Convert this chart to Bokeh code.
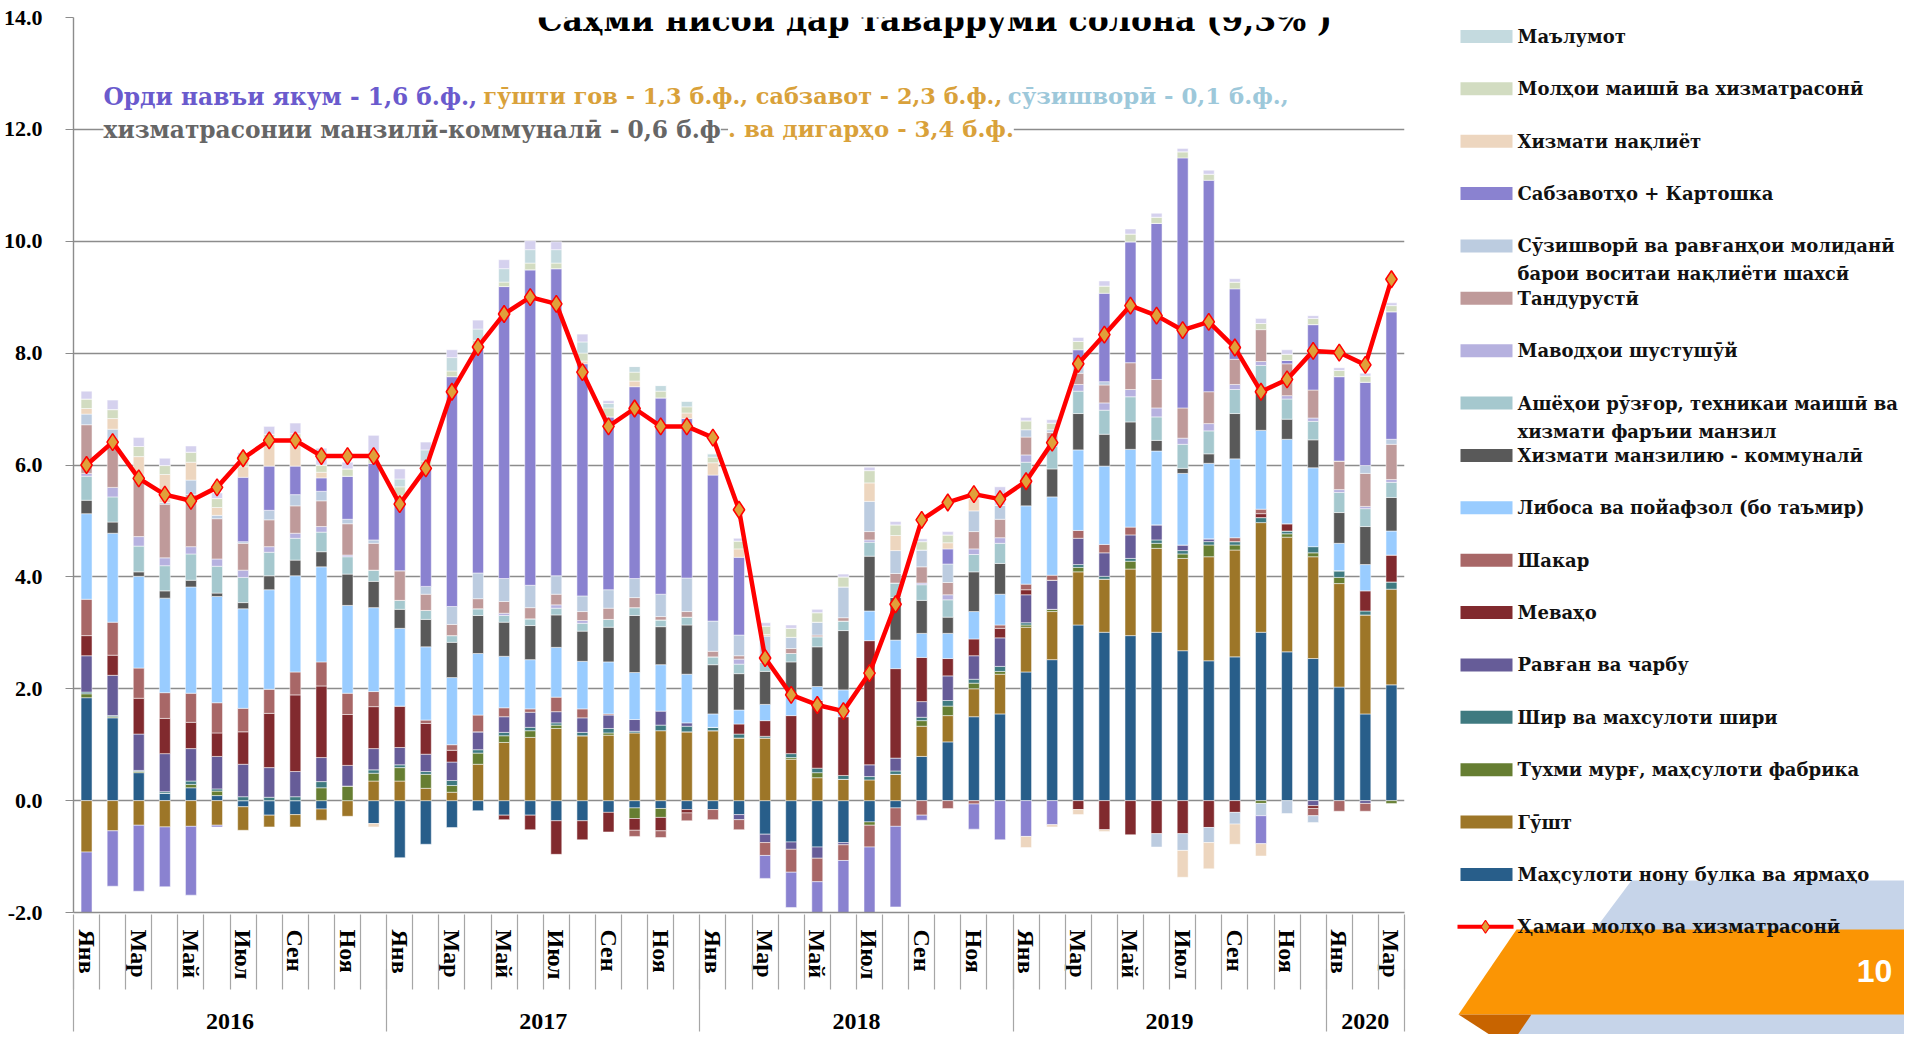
import numpy as np
from bokeh.plotting import figure
from bokeh.models import (ColumnDataSource, Range1d, LinearAxis, FixedTicker, Label,
                          NumeralTickFormatter)
from bokeh.layouts import row, column
from bokeh.embed import file_html
from bokeh.resources import INLINE

# ---------------- data ----------------
month_names = ["Янв", "Фев", "Мар", "Апр", "Май", "Июн", "Июл", "Авг", "Сен", "Окт", "Ноя", "Дек"]
years = ["2016", "2017", "2018", "2019", "2020"]
months_per_year = [12, 12, 12, 12, 3]

bread = [1.84, 1.48, 0.5, 0.13, 0.23, 0.09, -0.11, -0.26, -0.25, -0.15, 0, -0.41,
         -1.02, -0.78, -0.48, -0.18, -0.26, -0.26, -0.36, -0.36, -0.21, -0.13, -0.14, -0.16,
         -0.16, -0.25, -0.6, -0.74, -0.83, -0.75, -0.38, -0.13, 0.79, 1.05, 1.5, 1.55,
         2.3, 2.52, 3.14, 3.01, 2.95, 3.01, 2.68, 2.5, 2.57, 3.01, 2.66, 2.54,
         2.03, 1.55, 2.07]
meat = [-0.92, -0.54, -0.44, -0.47, -0.46, -0.44, -0.42, -0.21, -0.22, -0.2, -0.28, 0.35,
        0.35, 0.22, 0.15, 0.65, 1.04, 1.13, 1.29, 1.16, 1.17, 1.21, 1.25, 1.23,
        1.25, 1.12, 1.12, 0.74, 0.41, 0.38, 0.37, 0.47, 0.54, 0.47, 0.5, 0.71,
        0.8, 0.86, 0.95, 0.95, 1.19, 1.5, 1.65, 1.86, 1.91, 1.96, 2.05, 1.82,
        1.85, 1.77, 1.71]
eggs = [0.07, 0.02, 0.02, 0, 0.06, 0.08, 0, 0, 0, 0.23, 0.26, 0.14,
        0.24, 0.25, 0.12, 0.2, 0.12, 0.12, 0.06, 0, 0.04, -0.19, -0.16, 0,
        0, 0, 0, 0.03, 0.09, 0, -0.06, 0, 0.1, 0.17, 0.1, 0.05,
        0.04, 0.04, 0.08, 0, 0.14, 0.09, 0.08, 0.21, 0.09, -0.05, 0.06, 0.07,
        0.11, 0, -0.05]
milk = [0.03, 0.02, 0.02, 0.03, 0.06, 0.04, 0.07, 0.06, 0.07, 0.11, 0, 0.06,
        0.05, 0.05, 0.09, 0.06, 0.06, 0.06, 0.04, 0.06, 0.08, 0.03, 0.1, 0.1,
        0.06, 0.07, 0.03, 0.07, 0.08, 0.07, 0.06, 0.06, 0.06, 0.1, 0.07, 0.09,
        0.04, 0, 0.05, 0.05, 0.05, 0.06, 0.06, 0.06, 0.06, 0.09, 0.05, 0.11,
        0.12, 0.07, 0.13]
oil = [0.65, 0.72, 0.65, 0.68, 0.58, 0.58, 0.58, 0.53, 0.45, 0.43, 0.37, 0.38,
       0.31, 0.31, 0.33, 0.32, 0.28, 0.27, 0.2, 0.26, 0.24, 0.21, 0.25, 0.06,
       0, -0.09, -0.15, -0.13, -0.2, -0.04, 0.21, 0.23, 0.28, 0.44, 0.42, 0.51,
       0.5, 0.52, 0.47, 0.42, 0.42, 0.27, 0.1, 0.05, 0, 0, 0, -0.09,
       0, -0.05, 0]
fruit = [0.36, 0.36, 0.64, 0.63, 0.47, 0.42, 0.58, 0.97, 1.37, 1.28, 0.91, 0.75,
         0.74, 0.55, 0.21, 0, -0.08, -0.26, -0.6, -0.34, -0.35, -0.21, -0.24, -0.06,
         0, 0.18, 0.28, 0.68, 1.21, 1.05, 2.22, 1.6, 0.79, 0.31, 0.3, 0.17,
         0.09, 0, -0.16, -0.52, -0.61, -0.59, -0.59, -0.48, -0.21, 0.07, 0.13, -0.05,
         0, 0.36, 0.48]
sugar = [0.65, 0.59, 0.54, 0.46, 0.52, 0.54, 0.42, 0.43, 0.41, 0.43, 0.38, 0.27,
         0, 0.06, 0.1, 0.3, 0.16, 0.06, 0.26, 0.16, 0.02, -0.11, -0.12, -0.14,
         -0.18, -0.18, -0.23, -0.41, -0.42, -0.28, -0.39, -0.33, -0.26, -0.14, -0.06, 0.06,
         0.1, 0.09, 0.14, 0.15, 0.14, 0, 0, 0, 0.07, 0.08, 0, -0.13,
         -0.19, -0.14, 0]
clothing = [1.53, 1.59, 1.64, 1.69, 1.9, 1.9, 1.78, 1.78, 1.72, 1.7, 1.57, 1.5,
            1.39, 1.31, 1.2, 1.1, 0.92, 0.88, 0.89, 0.85, 0.93, 0.84, 0.83, 0.87,
            0.24, 0.25, 0.29, 0.37, 0.25, 0.48, 0.53, 0.51, 0.43, 0.45, 0.49, 0.55,
            1.4, 1.4, 1.44, 1.4, 1.39, 1.32, 1.28, 1.35, 1.41, 1.41, 1.51, 1.41,
            0.49, 0.47, 0.43]
housing = [0.24, 0.2, 0.08, 0.13, 0.12, 0.06, 0.11, 0.25, 0.28, 0.27, 0.56, 0.47,
           0.34, 0.49, 0.63, 0.68, 0.61, 0.61, 0.58, 0.54, 0.62, 1.02, 0.68, 0.88,
           0.88, 0.65, 0.59, 0.59, 0.71, 1.06, 0.98, 0.76, 0.59, 0.29, 0.71, 0.55,
           0.42, 0.5, 0.65, 0.57, 0.49, 0.19, 0.09, 0.17, 0.81, 0.69, 0.36, 0.5,
           0.55, 0.68, 0.6]
household = [0.43, 0.45, 0.46, 0.45, 0.47, 0.48, 0.45, 0.42, 0.39, 0.35, 0.31, 0.2,
             0.16, 0.16, 0.12, 0.12, 0.12, 0.12, 0.12, 0.14, 0.14, 0.14, 0.12, 0.14,
             0.14, 0.17, 0.17, 0.15, 0.18, 0.17, 0.25, 0.26, 0.28, 0.31, 0.31, 0.36,
             0.36, 0.4, 0.4, 0.43, 0.45, 0.42, 0.43, 0.41, 0.43, 0.47, 0.36, 0.33,
             0.36, 0.32, 0.27]
detergents = [0.05, 0.17, 0.17, 0.14, 0.13, 0.13, 0.13, 0.1, 0.09, 0.1, 0.03, 0,
              0, 0, 0, 0, 0.04, 0, 0.06, 0.05, 0, 0, 0, 0,
              0, 0.09, 0, 0, 0, 0, 0.04, 0, 0.03, 0.09, 0.1, 0.1,
              0.13, 0.05, 0.12, 0.13, 0.13, 0.16, 0.11, 0.13, 0.09, 0.07, 0.06, 0.06,
              0.05, 0.04, 0.05]
health = [0.87, 0.75, 1.0, 0.96, 0.93, 0.72, 0.48, 0.48, 0.49, 0.46, 0.56, 0.48,
          0.53, 0.29, 0.2, 0.18, 0.21, 0.2, 0.19, 0.16, 0.2, 0.18, 0.06, 0.1,
          0.1, 0.06, 0, 0.09, 0.03, 0.06, 0.15, 0.17, 0.29, 0.22, 0.31, 0.33,
          0.32, 0.2, 0.2, 0.32, 0.48, 0.51, 0.54, 0.57, 0.45, 0.57, 0.57, 0.5,
          0.51, 0.59, 0.63]
fuel = [0.19, 0.29, 0.1, 0.03, 0.26, 0.06, 0.03, 0.17, 0.2, 0.17, 0.08, 0.06,
        0, 0.14, 0.32, 0.46, 0.41, 0.4, 0.33, 0.28, 0.33, 0.34, 0.4, 0.6,
        0.54, 0.37, 0.46, 0.2, 0.23, 0.55, 0.54, 0.41, 0.3, 0.33, 0.37, 0.25,
        0.13, 0.05, 0.12, 0.06, 0, -0.24, -0.3, -0.27, -0.21, -0.22, -0.23, -0.12,
        0, 0.14, 0.09]
vegetables = [-1.1, -0.99, -1.18, -1.07, -1.23, -0.03, 1.15, 0.79, 0.51, 0.24, 0.77, 1.37,
              1.29, 2.1, 4.11, 4.0, 5.22, 5.64, 5.49, 4.15, 3.09, 3.43, 3.51, 2.85,
              2.61, 1.39, -0.41, -0.63, -0.59, -0.97, -1.22, -1.44, -0.09, 0.27, -0.45, -0.7,
              -0.64, -0.43, 0.3, 1.58, 2.16, 2.79, 4.47, 3.78, 1.26, -0.5, 0.06, 1.17,
              1.51, 1.49, 2.28]
transport = [0.1, 0.19, 0.33, 0.5, 0.32, 0.14, 0.19, 0.51, 0.48, 0.1, 0, -0.06,
             0.05, 0.04, 0, 0, 0, 0, 0, 0.05, 0, 0.1, 0, 0.1,
             0.22, 0.15, 0.03, 0, 0, 0, 0.33, 0.27, 0, 0.11, 0.22, 0,
             -0.2, -0.04, -0.09, -0.03, 0, 0, -0.48, -0.47, -0.36, -0.22, 0, 0,
             0, 0, 0]
consumer = [0.17, 0.16, 0.18, 0.16, 0.18, 0.16, 0.12, 0.06, 0.1, 0.13, 0.13, 0.2,
            0.16, 0.1, 0.1, 0.16, 0.08, 0.12, 0.1, 0.14, 0.16, 0.16, 0.12, 0.11,
            0.1, 0.14, 0.15, 0.16, 0.17, 0.18, 0.22, 0.19, 0.15, 0.14, 0, 0,
            0.16, 0.12, 0.15, 0.13, 0.14, 0.11, 0.11, 0.11, 0.12, 0.11, 0.11, 0.11,
            0.11, 0.11, 0.11]
information = [0, 0, 0, 0, 0, 0, 0, 0, 0, 0, 0, 0,
               0.14, 0.2, 0.24, 0.2, 0.24, 0.24, 0.24, 0.2, 0.08, 0.1, 0.1, 0.1,
               0.06, 0, 0, 0, 0, 0, 0, 0, 0, 0, 0, 0,
               0, 0, 0, 0, 0, 0, 0, 0, 0, 0, 0, 0,
               0, 0, 0]
other = [0.14, 0.17, 0.16, 0.13, 0.11, 0.1, 0.13, 0.14, 0.19, 0.3, 0.12, 0.3,
         0.18, 0.14, 0.14, 0.16, 0.16, 0.16, 0.14, 0.14, 0.05, 0, 0, 0,
         0, 0.05, 0.06, 0.06, 0.06, 0.05, 0.06, 0.06, 0.05, 0.06, 0.15, 0.33,
         0.06, 0.06, 0.07, 0.09, 0.09, 0.07, 0.06, 0.07, 0.06, 0.09, 0.08, 0.05,
         0.05, 0.05, 0.05]
total = [6.0, 6.41, 5.76, 5.47, 5.36, 5.6, 6.12, 6.44, 6.44, 6.16, 6.16, 6.16,
         5.3, 5.94, 7.31, 8.11, 8.7, 9.0, 8.88, 7.66, 6.69, 7.01, 6.69, 6.69,
         6.49, 5.2, 2.55, 1.89, 1.71, 1.6, 2.28, 3.51, 5.02, 5.33, 5.48, 5.39,
         5.71, 6.4, 7.81, 8.33, 8.85, 8.67, 8.41, 8.56, 8.1, 7.31, 7.53, 8.04,
         8.01, 7.79, 9.32]

# stacking order, bottom to top: (legend label lines, values, colour)
stack = [
    (["Маҳсулоти нону булка ва ярмаҳо"], bread, "#285E8A"),
    (["Гӯшт"], meat, "#9D7628"),
    (["Тухми мурғ,  маҳсулоти фабрика"], eggs, "#667E32"),
    (["Шир ва махсулоти шири"], milk, "#3F7A80"),
    (["Равған ва чарбу"], oil, "#665C98"),
    (["Меваҳо"], fruit, "#812A2E"),
    (["Шакар"], sugar, "#A86767"),
    (["Либоса ва  пойафзол (бо таъмир)"], clothing, "#99CCFF"),
    (["Хизмати  манзилию - коммуналӣ"], housing, "#595959"),
    (["Ашёҳои рӯзғор, техникаи маишӣ ва", "хизмати фаръии манзил"], household, "#A5C8CE"),
    (["Маводҳои шустушӯй"], detergents, "#B6B1DF"),
    (["Тандурустӣ"], health, "#BF9A9A"),
    (["Сӯзишворӣ ва равғанҳои молиданӣ", "барои воситаи  нақлиёти шахсӣ"], fuel, "#BCCCE0"),
    (["Сабзавотҳо + Картошка"], vegetables, "#8A82D0"),
    ([" Хизмати нақлиёт"], transport, "#EDD6BF"),
    (["Молҳои маишӣ ва хизматрасонӣ"], consumer, "#D2DCC1"),
    ([" Маълумот"], information, "#C4DADF"),
    ([], other, "#D5D1EE"),
]
total_label = "Ҳамаи молҳо ва хизматрасонӣ"

n = len(total)
x = np.arange(n)

SERIF = "DejaVu Serif"
TIMES = "Liberation Serif"
GRID = "#8C8C8C"
SEP = "#A6A6A6"
H = 1034
BORDER_TOP = 17
FRAME_H = 895
BORDER_BOTTOM = H - BORDER_TOP - FRAME_H

p = figure(width=1447, height=H, x_range=Range1d(-0.5, n - 0.5), y_range=Range1d(-2, 14),
           output_backend="svg", toolbar_location=None, x_axis_location=None,
           min_border_left=72, min_border_right=43, min_border_top=BORDER_TOP,
           min_border_bottom=BORDER_BOTTOM)
p.outline_line_color = None
p.xgrid.visible = False
yt = FixedTicker(ticks=list(range(-2, 15, 2)))
p.ygrid.ticker = yt
p.ygrid.grid_line_color = GRID
p.ygrid.grid_line_width = 1.4
yax = p.yaxis[0]
yax.ticker = yt
yax.formatter = NumeralTickFormatter(format="0.0")
yax.axis_line_color = GRID
yax.axis_line_width = 1.4
yax.major_tick_line_color = GRID
yax.major_tick_in = 0
yax.major_tick_out = 8
yax.minor_tick_line_color = None
yax.major_label_standoff = 23
yax.major_label_text_font = TIMES
yax.major_label_text_font_style = "bold"
yax.major_label_text_font_size = "22px"
yax.major_label_text_color = "black"


def bold_labels(ax, size):
    ax.major_label_text_font = TIMES
    ax.major_label_text_font_style = "bold"
    ax.major_label_text_font_size = size
    ax.major_label_text_color = "black"


# (A) month labels, adjacent to the plot
m_ticks = list(range(0, n, 2))
ax_m = LinearAxis(ticker=FixedTicker(ticks=m_ticks),
                  major_label_overrides={t: month_names[t % 12] for t in m_ticks},
                  major_label_orientation="vertical")
ax_m.axis_line_color = GRID
ax_m.axis_line_width = 1.4
ax_m.major_tick_line_color = None
ax_m.major_tick_in = 0
ax_m.major_tick_out = 0
ax_m.minor_tick_line_color = None
ax_m.major_label_standoff = 17
bold_labels(ax_m, "24px")
p.add_layout(ax_m, "below")

# (B) year labels; its minor ticks draw the month separators through (A)
starts = np.cumsum([0] + months_per_year)
y_centers = [float((starts[k] + starts[k + 1] - 1) / 2) for k in range(len(years))]
y_bounds = [float(s - 0.5) for s in starts]
m_bounds = [i - 0.5 for i in range(n + 1)]
ax_y = LinearAxis(ticker=FixedTicker(ticks=y_centers, minor_ticks=m_bounds),
                  major_label_overrides={c: yv for c, yv in zip(y_centers, years)})
ax_y.axis_line_color = None
ax_y.major_tick_line_color = None
ax_y.major_tick_in = 0
ax_y.major_tick_out = 0
ax_y.minor_tick_in = 68
ax_y.minor_tick_out = 7
ax_y.minor_tick_line_color = SEP
ax_y.minor_tick_line_width = 1.2
ax_y.major_label_standoff = 24
bold_labels(ax_y, "24px")
p.add_layout(ax_y, "below")

# (C) year separators through (B)
ax_s = LinearAxis(ticker=FixedTicker(ticks=y_bounds),
                  major_label_overrides={b: "" for b in y_bounds})
ax_s.axis_line_color = None
ax_s.major_tick_line_color = SEP
ax_s.major_tick_line_width = 1.2
ax_s.major_tick_in = 62
ax_s.major_tick_out = 0
ax_s.minor_tick_line_color = None
ax_s.major_label_standoff = 0
ax_s.major_label_text_font_size = "0px"
p.add_layout(ax_s, "below")

# stacked bars (positive and negative parts stacked separately)
pos = np.zeros(n)
neg = np.zeros(n)
for lab, vals, col in stack:
    v = np.array(vals, dtype=float)
    bottom = np.where(v >= 0, pos, neg)
    top = bottom + v
    pos = np.where(v >= 0, pos + v, pos)
    neg = np.where(v < 0, neg + v, neg)
    src = ColumnDataSource(dict(x=x, bottom=bottom, top=top))
    p.vbar(x="x", bottom="bottom", top="top", width=0.42, source=src,
           fill_color=col, line_color="white", line_width=0.5)

# headline line
lsrc = ColumnDataSource(dict(x=x, y=total))
p.line(x="x", y="y", source=lsrc, line_color="#FF0000", line_width=4.5)
p.scatter(x="x", y="y", source=lsrc, marker="diamond", size=17,
          fill_color="#E0A03A", line_color="#FF0000", line_width=1.5)

# title and annotation
p.add_layout(Label(x=32.5, y=14 + BORDER_TOP / 55.94, text="Саҳми нисбӣ дар таварруми солона (9,3% )",
                   text_font=SERIF, text_font_style="bold", text_font_size="31.5px",
                   text_align="center", text_baseline="top", text_color="black",
                   background_fill_color="white"))
ann = [
    (0.65, 12.59, "Орди навъи якум - 1,6 б.ф.,", "#6A5ACD", "23.3px"),
    (15.2, 12.59, "гӯшти гов - 1,3 б.ф., сабзавот - 2,3 б.ф.,", "#D9A13A", "22.4px"),
    (35.3, 12.59, "сӯзишворӣ - 0,1 б.ф.,", "#9DC8DA", "22.8px"),
    (0.65, 12.0, "хизматрасонии манзилӣ-коммуналӣ - 0,6 б.ф", "#666666", "23.3px"),
    (24.58, 12.0, ". ва дигарҳо - 3,4 б.ф.", "#D9A13A", "22.8px"),
]
for ax_, ay_, t, c, fs in ann:
    p.add_layout(Label(x=ax_, y=ay_, text=t, text_font=SERIF, text_font_style="bold",
                       text_font_size=fs, text_align="left", text_baseline="middle",
                       text_color=c, background_fill_color="white"))

# ---------------- legend panel (coordinates = pixels inside this panel) ----------------
LW = 457
lg = figure(width=LW, height=H, x_range=Range1d(0, LW), y_range=Range1d(H, 0),
            output_backend="svg", toolbar_location=None, x_axis_location=None,
            y_axis_location=None, min_border=0)
lg.outline_line_color = None
lg.grid.visible = False

# decorative slide corner
lg.patch([184, LW, LW, 69], [880, 880, H, H], fill_color="#C6D4E9", line_color=None)
lg.patch([69, LW, LW, 11], [929, 929, 1014, 1014], fill_color="#FB9504", line_color=None)
lg.patch([11, 84, 69, 45], [1014, 1014, 1036, 1036], fill_color="#C86400", line_color=None)
lg.add_layout(Label(x=427, y=970, text="10", text_font="Liberation Sans", text_font_style="bold",
                    text_font_size="32px", text_color="white", text_align="center",
                    text_baseline="middle"))

legend_entries = [(lab, col) for lab, vals, col in reversed(stack) if lab]
step = 52.37
y0 = 36
sw_y, sw_c = [], []
for k, (lab, col) in enumerate(legend_entries):
    yy = y0 + step * k
    sw_y.append(yy)
    sw_c.append(col)
    for j, line in enumerate(lab):
        lg.add_layout(Label(x=70, y=yy + 28 * j, text=line, text_font=SERIF,
                            text_font_style="bold", text_font_size="18px",
                            text_color="#111111", text_align="left", text_baseline="middle"))
lg.rect(x=39, y=sw_y, width=52, height=13, fill_color=sw_c, line_color=None)
ly = y0 + step * len(legend_entries)
lg.line(x=[10, 66], y=[ly, ly], line_color="#FF0000", line_width=4)
lg.scatter(x=[38], y=[ly], marker="diamond", size=13, fill_color="#E0A03A",
           line_color="#FF0000", line_width=1.2)
lg.add_layout(Label(x=70, y=ly, text=total_label, text_font=SERIF, text_font_style="bold",
                    text_font_size="18px", text_color="#111111", text_align="left",
                    text_baseline="middle"))

layout = row(p, column(lg))
open("out.html", "w").write(file_html(layout, INLINE))
